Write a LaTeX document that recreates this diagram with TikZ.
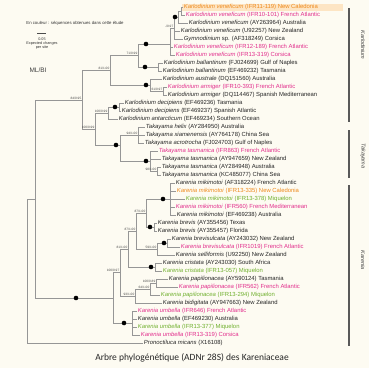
\documentclass[tikz,border=0pt]{standalone}
\usepackage{fontspec}
\setmainfont{Liberation Sans}
\newfontfamily\capfont{Carlito}
\usepackage{xcolor}
\definecolor{SeqPink}{RGB}{226,46,140}
\definecolor{SeqOrange}{RGB}{238,138,28}
\definecolor{SeqGreen}{RGB}{112,176,46}
\definecolor{SeqHigh}{RGB}{253,229,196}
\definecolor{PageBg}{RGB}{253,251,242}
\definecolor{BranchGray}{RGB}{150,150,150}
\usetikzlibrary{calc}
\newcommand{\taxon}[2]{\textit{#1} #2}

\begin{document}
\begin{tikzpicture}[
    x=1pt, y=-1pt,
    font=\fontsize{5.9}{6.5}\selectfont,
    branch/.style={draw=BranchGray, line width=0.5pt},
    tip/.style={anchor=west, inner sep=0.7pt, text=black!85},
    tipfr/.style={tip, text=SeqPink},
    tipnc/.style={tip, text=SeqOrange},
    tipmq/.style={tip, text=SeqGreen},
    support/.style={anchor=south east, inner sep=0.5pt, font=\fontsize{3.2}{3.5}\selectfont, text=black!70},
    node_dot/.style={circle, fill=black, inner sep=0pt, minimum size=4.6pt},
    clade_bar/.style={line width=1.3pt, draw=black!65},
    clade_name/.style={rotate=-90, font=\fontsize{5.5}{6}\selectfont\itshape, text=black!75}
]

    % 0. PAGE
    \useasboundingbox (0,0) rectangle (369,368);
    \fill[PageBg] (0,0) rectangle (369,368);
    \fill[SeqHigh] (182,3.5) rectangle (343,10.5);

    % 1. LEGEND
    \node[font=\fontsize{4.3}{5}\selectfont, text=black!80] (legend) at (75,23) {En couleur : séquences obtenues dans cette étude};
    \coordinate (barL) at (37,33);
    \coordinate (barR) at (46,33);
    \draw[black!70, line width=0.4pt] (barL) -- (barR);
    \node[font=\fontsize{3.8}{4}\selectfont, align=center, text=black!80, anchor=north] (scale) at (42,34.5) {0.05\\Expected changes\\per site};
    \node[font=\fontsize{6.5}{7}\selectfont, text=black!75] (method) at (38,70) {ML/BI};

    % 2. TAXA
    \node[tipnc] (t1) at (183,7) {\taxon{Karlodinium veneficum}{(IFR11-119) New Caledonia}};
    \node[tipfr] (t2) at (185,15) {\taxon{Karlodinium veneficum}{(IFR10-101) French Atlantic}};
    \node[tip] (t3) at (188,23) {\taxon{Karlodinium veneficum}{(AY263964) Australia}};
    \node[tip] (t4) at (180,31) {\taxon{Karlodinium veneficum}{(U92257) New Zealand}};
    \node[tip] (t5) at (183,39) {\taxon{Gymnodinium}{sp. (AF318249) Corsica}};
    \node[tipfr] (t6) at (173,47) {\taxon{Karlodinium veneficum}{(IFR12-189) French Atlantic}};
    \node[tipfr] (t7) at (175,55) {\taxon{Karlodinium veneficum}{(IFR13-319) Corsica}};
    \node[tip] (t8) at (163,63) {\taxon{Karlodinium ballantinum}{(FJ024699) Gulf of Naples}};
    \node[tip] (t9) at (162,71) {\taxon{Karlodinium ballantinum}{(EF469232) Tasmania}};
    \node[tip] (t10) at (162,79) {\taxon{Karlodinium australe}{(DQ151560) Australia}};
    \node[tipfr] (t11) at (167,87) {\taxon{Karlodinium armiger}{(IFR10-393) French Atlantic}};
    \node[tip] (t12) at (167,95) {\taxon{Karlodinium armiger}{(DQ114467) Spanish Mediterranean}};
    \node[tip] (t13) at (124,103) {\taxon{Karlodinium decipiens}{(EF469236) Tasmania}};
    \node[tip] (t14) at (121,111) {\taxon{Karlodinium decipiens}{(EF469237) Spanish Atlantic}};
    \node[tip] (t15) at (118,119) {\taxon{Karlodinium antarcticum}{(EF469234) Southern Ocean}};
    \node[tip] (t16) at (145,127) {\taxon{Takayama helix}{(AY284950) Australia}};
    \node[tip] (t17) at (145,135) {\taxon{Takayama xiamenensis}{(AY764178) China Sea}};
    \node[tip] (t18) at (144,143) {\taxon{Takayama acrotrocha}{(FJ024703) Gulf of Naples}};
    \node[tipfr] (t19) at (158,151) {\taxon{Takayama tasmanica}{(IFR863) French Atlantic}};
    \node[tip] (t20) at (161,159) {\taxon{Takayama tasmanica}{(AY947659) New Zealand}};
    \node[tip] (t21) at (161,167) {\taxon{Takayama tasmanica}{(AY284948) Australia}};
    \node[tip] (t22) at (161,175) {\taxon{Takayama tasmanica}{(KC485077) China Sea}};
    \node[tip] (t23) at (175,183) {\taxon{Karenia mikimotoi}{(AF318224) French Atlantic}};
    \node[tipnc] (t24) at (176,191) {\taxon{Karenia mikimotoi}{(IFR13-335) New Caledonia}};
    \node[tipmq] (t25) at (185,199) {\taxon{Karenia mikimotoi}{(IFR13-378) Miquelon}};
    \node[tipfr] (t26) at (175,207) {\taxon{Karenia mikimotoi}{(IFR560) French Mediterranean}};
    \node[tip] (t27) at (176,215) {\taxon{Karenia mikimotoi}{(EF469238) Australia}};
    \node[tip] (t28) at (157,223) {\taxon{Karenia brevis}{(AY355456) Texas}};
    \node[tip] (t29) at (157,231) {\taxon{Karenia brevis}{(AY355457) Florida}};
    \node[tip] (t30) at (171,239) {\taxon{Karenia brevisulcata}{(AY243032) New Zealand}};
    \node[tipfr] (t31) at (180,247) {\taxon{Karenia brevisulcata}{(IFR1019) French Atlantic}};
    \node[tip] (t32) at (175,255) {\taxon{Karenia selliformis}{(U92250) New Zealand}};
    \node[tip] (t33) at (162,263) {\taxon{Karenia cristata}{(AY243030) South Africa}};
    \node[tipmq] (t34) at (162,271) {\taxon{Karenia cristata}{(IFR13-057) Miquelon}};
    \node[tip] (t35) at (168,279) {\taxon{Karenia papilionacea}{(AY590124) Tasmania}};
    \node[tipfr] (t36) at (178,287) {\taxon{Karenia papilionacea}{(IFR562) French Atlantic}};
    \node[tipmq] (t37) at (160,295) {\taxon{Karenia papilionacea}{(IFR13-294) Miquelon}};
    \node[tip] (t38) at (162,303) {\taxon{Karenia bidigitata}{(AY947663) New Zealand}};
    \node[tipfr] (t39) at (137,311) {\taxon{Karenia umbella}{(IFR646) French Atlantic}};
    \node[tip] (t40) at (137,319) {\taxon{Karenia umbella}{(EF469230) Australia}};
    \node[tipmq] (t41) at (137,327) {\taxon{Karenia umbella}{(IFR13-377) Miquelon}};
    \node[tipfr] (t42) at (140,335) {\taxon{Karenia umbella}{(IFR13-319) Corsica}};
    \node[tip] (t43) at (143,343) {\taxon{Pronoctiluca micans}{(X16108)}};

    % 3. INTERNAL NODES
    \coordinate (n12) at (181,11);
    \coordinate (n123) at (178,17);
    \coordinate (nVa) at (174,28);
    \coordinate (nV) at (170,44);
    \coordinate (nBal) at (158,67);
    \coordinate (nK2) at (138,55);
    \coordinate (nAA) at (163,91);
    \coordinate (nAus) at (150,85);
    \coordinate (nK1) at (110,70);
    \coordinate (nDec) at (119,107);
    \coordinate (nDA) at (108,113);
    \coordinate (nTx) at (138,135);
    \coordinate (nTas2) at (157,171);
    \coordinate (nTas) at (150,161);
    \coordinate (nT0) at (120,145);
    \coordinate (nX) at (95,129);
    \coordinate (nKT) at (82,100);
    \coordinate (nMik) at (170,199);
    \coordinate (nBrv) at (154,227);
    \coordinate (nMB) at (146,213);
    \coordinate (nBs) at (167,243);
    \coordinate (nBsS) at (157,249);
    \coordinate (nMBB) at (136,231);
    \coordinate (nCris) at (155,267);
    \coordinate (nC2) at (128,249);
    \coordinate (nPap) at (156,283);
    \coordinate (nPap2) at (150,289);
    \coordinate (nPB) at (135,296);
    \coordinate (nK3) at (120,272);
    \coordinate (nUmb) at (132,323);
    \coordinate (nKar) at (113,298);
    \coordinate (nIn) at (35,199);
    \coordinate (nRoot) at (27,271);

    % 4. BRANCHES
    \draw[branch] (n12) |- (t1.west) (n12) |- (t2.west);
    \draw[branch] (n123) |- (n12) (n123) |- (t3.west);
    \draw[branch] (nVa) |- (n123) (nVa) |- (t4.west) (nVa) |- (t5.west);
    \draw[branch] (nV) |- (nVa) (nV) |- (t6.west) (nV) |- (t7.west);
    \draw[branch] (nBal) |- (t8.west) (nBal) |- (t9.west);
    \draw[branch] (nK2) |- (nV) (nK2) |- (nBal);
    \draw[branch] (nAA) |- (t11.west) (nAA) |- (t12.west);
    \draw[branch] (nAus) |- (t10.west) (nAus) |- (nAA);
    \draw[branch] (nK1) |- (nK2) (nK1) |- (nAus);
    \draw[branch] (nDec) |- (t13.west) (nDec) |- (t14.west);
    \draw[branch] (nDA) |- (nDec) (nDA) |- (t15.west);
    \foreach \i in {16,17,18} {
        \draw[branch] (nTx) |- (t\i.west);
    }
    \draw[branch] (nTas2) |- (t21.west) (nTas2) |- (t22.west);
    \draw[branch] (nTas) |- (t19.west) (nTas) |- (t20.west) (nTas) |- (nTas2);
    \draw[branch] (nT0) |- (nTx) (nT0) |- (nTas);
    \draw[branch] (nX) |- (nDA) (nX) |- (nT0);
    \draw[branch] (nKT) |- (nK1) (nKT) |- (nX);
    \foreach \i in {23,...,27} {
        \draw[branch] (nMik) |- (t\i.west);
    }
    \draw[branch] (nBrv) |- (t28.west) (nBrv) |- (t29.west);
    \draw[branch] (nMB) |- (nMik) (nMB) |- (nBrv);
    \draw[branch] (nBs) |- (t30.west) (nBs) |- (t31.west);
    \draw[branch] (nBsS) |- (nBs) (nBsS) |- (t32.west);
    \draw[branch] (nMBB) |- (nMB) (nMBB) |- (nBsS);
    \draw[branch] (nCris) |- (t33.west) (nCris) |- (t34.west);
    \draw[branch] (nC2) |- (nMBB) (nC2) |- (nCris);
    \draw[branch] (nPap) |- (t35.west) (nPap) |- (t36.west);
    \draw[branch] (nPap2) |- (nPap) (nPap2) |- (t37.west);
    \draw[branch] (nPB) |- (nPap2) (nPB) |- (t38.west);
    \draw[branch] (nK3) |- (nC2) (nK3) |- (nPB);
    \foreach \i in {39,...,42} {
        \draw[branch] (nUmb) |- (t\i.west);
    }
    \draw[branch] (nKar) |- (nK3) (nKar) |- (nUmb);
    \draw[branch] (nIn) |- (nKT) (nIn) |- (nKar);
    \draw[branch] (nRoot) |- (nIn) (nRoot) |- (t43.west);

    % 5. FULLY SUPPORTED NODES
    \foreach \p [count=\k] in {(175,17), (146,44), (145,67), (146,85), (115,107), (116,145), (146,161),
                               (163,199), (150,227), (164,243), (151,267), (124,323), (76,298)} {
        \node[node_dot] (dot\k) at \p {};
    }

    % 6. SUPPORT VALUES
    \node[support] (sVa) at (nVa) {-/0.97};
    \node[support] (sK2) at (nK2) {71/0.99};
    \node[support] (sK1) at (nK1) {81/1.00};
    \node[support] (sAA) at (nAA) {61/0.97};
    \node[support] (sDA) at (nDA) {100/0.99};
    \node[support] (sX) at (nX) {100/0.99};
    \node[support] (sKT) at (nKT) {84/0.95};
    \node[support] (sTx) at (nTx) {94/1.00};
    \node[support] (sTas2) at (nTas2) {98/1.00};
    \node[support] (sMB) at (nMB) {87/1.00};
    \node[support] (sMBB) at (nMBB) {87/1.00};
    \node[support] (sBsS) at (nBsS) {59/1.00};
    \node[support] (sC2) at (nC2) {81/1.00};
    \node[support] (sK3) at (nK3) {100/0.97};
    \node[support] (sPap) at (nPap) {100/0.89};
    \node[support] (sPap2) at (nPap2) {64/1.00};
    \node[support] (sPB) at (nPB) {93/1.00};

    % 7. CLADES
    \draw[clade_bar] (349,8) -- (349,122);
    \draw[clade_bar] (349,130) -- (349,178);
    \draw[clade_bar] (349,185) -- (349,346);
    \node[clade_name] (cKarlo) at (363,45) {Karlodinium};
    \node[clade_name] (cTaka) at (363,156) {Takayama};
    \node[clade_name] (cKare) at (363,260) {Karenia};

    % 8. CAPTION
    \node[font=\capfont\fontsize{9.5}{11}\selectfont, text=black!85] (caption) at (192,358) {Arbre phylogénétique (ADNr 28S) des Kareniaceae};

\end{tikzpicture}
\end{document}
